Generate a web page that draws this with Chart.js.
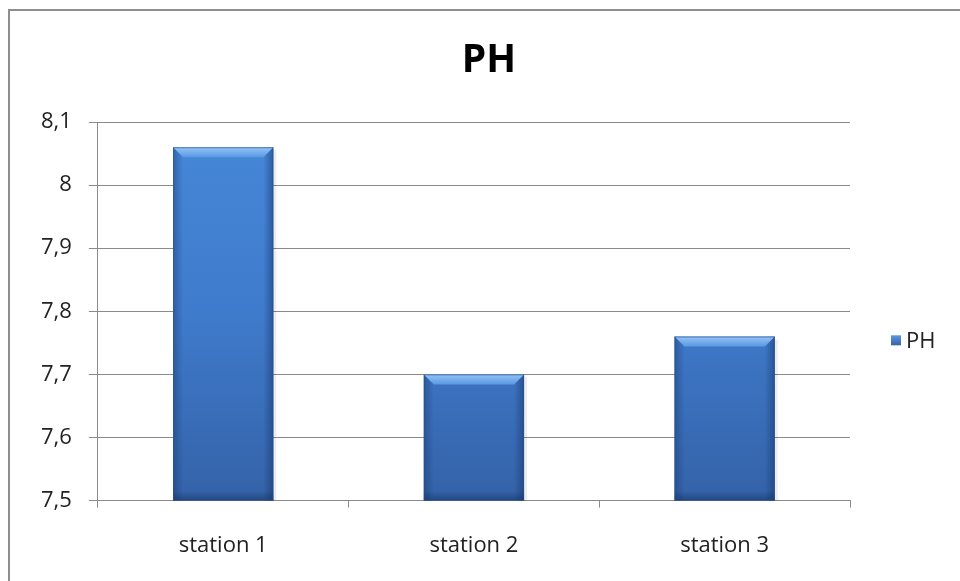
<!DOCTYPE html>
<html>
<head>
<meta charset="utf-8">
<script src="https://cdn.jsdelivr.net/npm/chart.js@4/dist/chart.umd.min.js"></script>
<style>
  html, body { margin: 0; padding: 0; background: #fff; overflow: hidden; }
  #wrap { position: relative; width: 960px; height: 581px; overflow: hidden; }
  #frame { position: absolute; left: 8px; top: 9px; width: 1100px; height: 800px; border: 2px solid #8e8e8e; box-sizing: border-box; }
  canvas { position: absolute; left: 0; top: 0; }
</style>
</head>
<body>
<div id="wrap">
  <div id="frame"></div>
  <canvas id="chart" width="960" height="584"></canvas>
</div>
<script>
  // données du graphique
  const titre = "PH";
  const stations = ["station 1", "station 2", "station 3"];
  const valeursPH = [8.06, 7.70, 7.76];
  const yMin = 7.5, yMax = 8.1, yPas = 0.1;

  const police = "'Open Sans', 'DejaVu Sans', sans-serif";

  function degradeBarre(ctx) {
    const chart = ctx.chart;
    const area = chart.chartArea;
    if (!area) return "#3f7ccc";
    const g = chart.ctx.createLinearGradient(0, area.top, 0, area.bottom);
    g.addColorStop(0, "#4788d8");
    g.addColorStop(0.5, "#3f7bcc");
    g.addColorStop(1, "#3462a8");
    return g;
  }

  // effet biseauté façon Excel 2007 + titre + légende
  const biseau = {
    id: "biseau",
    afterDatasetsDraw(chart) {
      const c = chart.ctx;
      const area = chart.chartArea;
      chart.getDatasetMeta(0).data.forEach(bar => {
        const l = bar.x - bar.width / 2, r = bar.x + bar.width / 2;
        const t = bar.y, b = Math.min(bar.base, area.bottom);
        const e = 10;
        c.save();
        // ombre à droite
        c.fillStyle = "rgba(0,0,0,0.07)";
        c.fillRect(r, t + 3, 3, b - t - 3);
        // côtés sombres
        let g = c.createLinearGradient(l, 0, l + e, 0);
        g.addColorStop(0, "rgba(20,50,100,0.4)");
        g.addColorStop(1, "rgba(20,50,100,0)");
        c.fillStyle = g;
        c.fillRect(l, t, e, b - t);
        g = c.createLinearGradient(r, 0, r - e, 0);
        g.addColorStop(0, "rgba(20,50,100,0.5)");
        g.addColorStop(1, "rgba(20,50,100,0)");
        c.fillStyle = g;
        c.fillRect(r - e, t, e, b - t);
        // bas
        g = c.createLinearGradient(0, b, 0, b - e);
        g.addColorStop(0, "rgba(20,45,90,0.5)");
        g.addColorStop(1, "rgba(20,45,90,0)");
        c.fillStyle = g;
        c.fillRect(l, b - e, r - l, e);
        // biseau du haut
        c.beginPath();
        c.moveTo(l, t);
        c.lineTo(r, t);
        c.lineTo(r - e, t + e);
        c.lineTo(l + e, t + e);
        c.closePath();
        g = c.createLinearGradient(0, t, 0, t + e);
        g.addColorStop(0, "#95c4f6");
        g.addColorStop(1, "#5a98e4");
        c.fillStyle = g;
        c.fill();
        // contour
        c.strokeStyle = "rgba(40,80,140,0.6)";
        c.lineWidth = 1;
        c.strokeRect(l + 0.5, t + 0.5, r - l - 1, b - t - 1);
        c.restore();
      });
    },
    afterDraw(chart) {
      const c = chart.ctx;
      const area = chart.chartArea;
      c.save();
      // titre
      c.fillStyle = "#000";
      c.font = "bold 39px " + police;
      c.textAlign = "center";
      c.textBaseline = "middle";
      c.fillText(titre, 489, 61);
      // légende à droite
      const x = area.right + 41;
      const y = (area.top + area.bottom) / 2 + 29;
      const g = c.createLinearGradient(0, y - 5, 0, y + 5);
      g.addColorStop(0, "#5a98e4");
      g.addColorStop(1, "#3462a8");
      c.fillStyle = g;
      c.fillRect(x, y - 5, 10, 10);
      c.fillStyle = "#222";
      c.font = "22px " + police;
      c.textAlign = "left";
      c.fillText(chart.data.datasets[0].label, x + 15, y + 1);
      c.restore();
    }
  };

  new Chart(document.getElementById("chart"), {
    type: "bar",
    data: {
      labels: stations,
      datasets: [{
        label: "PH",
        data: valeursPH,
        backgroundColor: degradeBarre,
        borderWidth: 0,
        categoryPercentage: 1,
        barPercentage: 0.4
      }]
    },
    options: {
      responsive: false,
      animation: false,
      devicePixelRatio: 1,
      layout: { padding: { top: 122, left: 24, right: 110, bottom: 0 } },
      plugins: {
        title: { display: false },
        legend: { display: false },
        tooltip: { enabled: false }
      },
      scales: {
        y: {
          min: yMin,
          max: yMax,
          ticks: {
            stepSize: yPas,
            color: "#222",
            padding: 17,
            font: { family: police, size: 22 },
            callback: v => Number(v).toLocaleString("fr-FR", { maximumFractionDigits: 1 })
          },
          grid: { color: "#8a8a8a", lineWidth: 1, tickLength: 9 },
          border: { color: "#8a8a8a", width: 1 }
        },
        x: {
          ticks: {
            color: "#222",
            padding: 25,
            font: { family: police, size: 22 }
          },
          grid: { drawOnChartArea: false, color: "#8a8a8a", tickLength: 7, offset: true },
          border: { color: "#8a8a8a", width: 1 }
        }
      }
    },
    plugins: [biseau]
  });
</script>
</body>
</html>
